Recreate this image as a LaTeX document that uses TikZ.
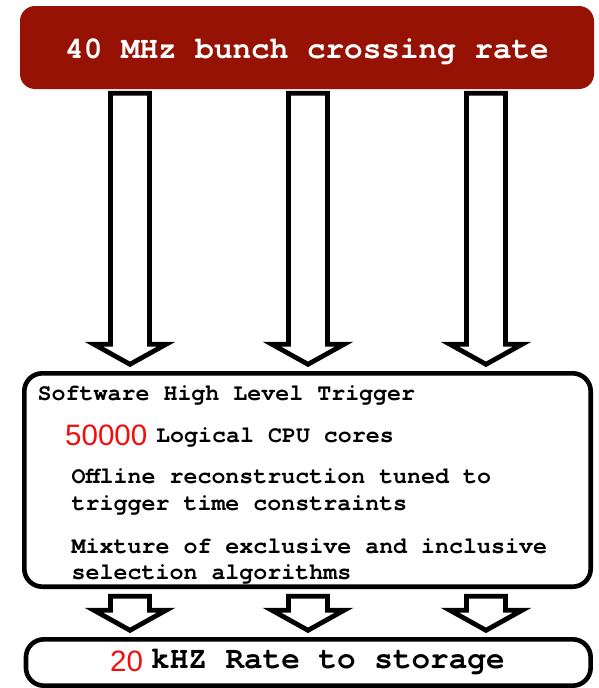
\documentclass[tikz,border=0pt]{standalone}
\usepackage{fontspec}
\setmonofont{TeX Gyre Cursor}
\setsansfont{Liberation Sans}
\usepackage{xcolor}
\usepackage{tikz}
\usetikzlibrary{calc}

\definecolor{ratered}{RGB}{150,18,4}
\definecolor{numred}{RGB}{245,12,12}

\begin{document}
\begin{tikzpicture}[
    x=1pt, y=-1pt,
    banner/.style={
        fill=ratered, rounded corners=15pt, outer sep=0pt, text=white,
        font=\ttfamily\bfseries\fontsize{31}{31}\selectfont
    },
    box/.style={draw=black, line width=4.6pt, rounded corners=18pt, outer sep=0pt, inner sep=0pt},
    txt/.style={anchor=base west, inner sep=0pt, font=\ttfamily\bfseries\fontsize{23.3}{23.3}\selectfont},
    bigtxt/.style={anchor=base west, inner sep=0pt, font=\ttfamily\bfseries\fontsize{31}{31}\selectfont},
    num/.style={anchor=base west, inner sep=0pt, text=numred, font=\sffamily\fontsize{29.5}{29.5}\selectfont},
    flow/.style={draw=black, fill=white, line width=4.8pt, line join=miter}
]
    \useasboundingbox (0,0) rectangle (598,688);

    \node[banner, minimum width=574pt, minimum height=83pt, text height=22pt, text depth=0pt] (rate) at (307,47.5) {40 MHz bunch crossing rate};
    \node[box, minimum width=566.4pt, minimum height=213.4pt] (hlt) at (307.5,480) {};
    \node[box, minimum width=564.7pt, minimum height=46.4pt] (store) at (308.3,662.5) {};

    \node[txt] (title) at (37.5,400) {Software High Level Trigger};
    \node[num] (cores) at (65,445) {50000};
    \node[txt] (coreslbl) at (156,442) {Logical CPU cores};
    \node[txt] (reco) at (71.5,483) {Offline reconstruction tuned to};
    \node[txt] (recob) at (71.5,510) {trigger time constraints};
    \node[txt] (algo) at (71.5,553) {Mixture of exclusive and inclusive};
    \node[txt] (algob) at (71.5,579) {selection algorithms};
    \node[num] (outrate) at (110,671) {20};
    \node[bigtxt] (outlbl) at (151,668) {kHZ Rate to storage};

    \foreach \col in {130,308,486} {
        \coordinate (col\col) at (\col,0);
        \draw[flow] let \p1=($(rate.south -| col\col)+(0,4.3)$), \p2=($(hlt.north -| col\col)+(0,-9)$) in
            (\x1-19.5pt,\y1) -- (\x1-19.5pt,\y2+20pt) -- (\x1-36pt,\y2+20pt) -- (\x1,\y2)
            -- (\x1+36pt,\y2+20pt) -- (\x1+19.5pt,\y2+20pt) -- (\x1+19.5pt,\y1) -- cycle;
        \draw[flow] let \p1=($(hlt.south -| col\col)+(0,9.6)$), \p2=($(store.north -| col\col)+(0,-9)$) in
            (\x1-19.5pt,\y1) -- (\x1-19.5pt,\y2+20pt) -- (\x1-36pt,\y2+20pt) -- (\x1,\y2)
            -- (\x1+36pt,\y2+20pt) -- (\x1+19.5pt,\y2+20pt) -- (\x1+19.5pt,\y1) -- cycle;
    }
\end{tikzpicture}
\end{document}
